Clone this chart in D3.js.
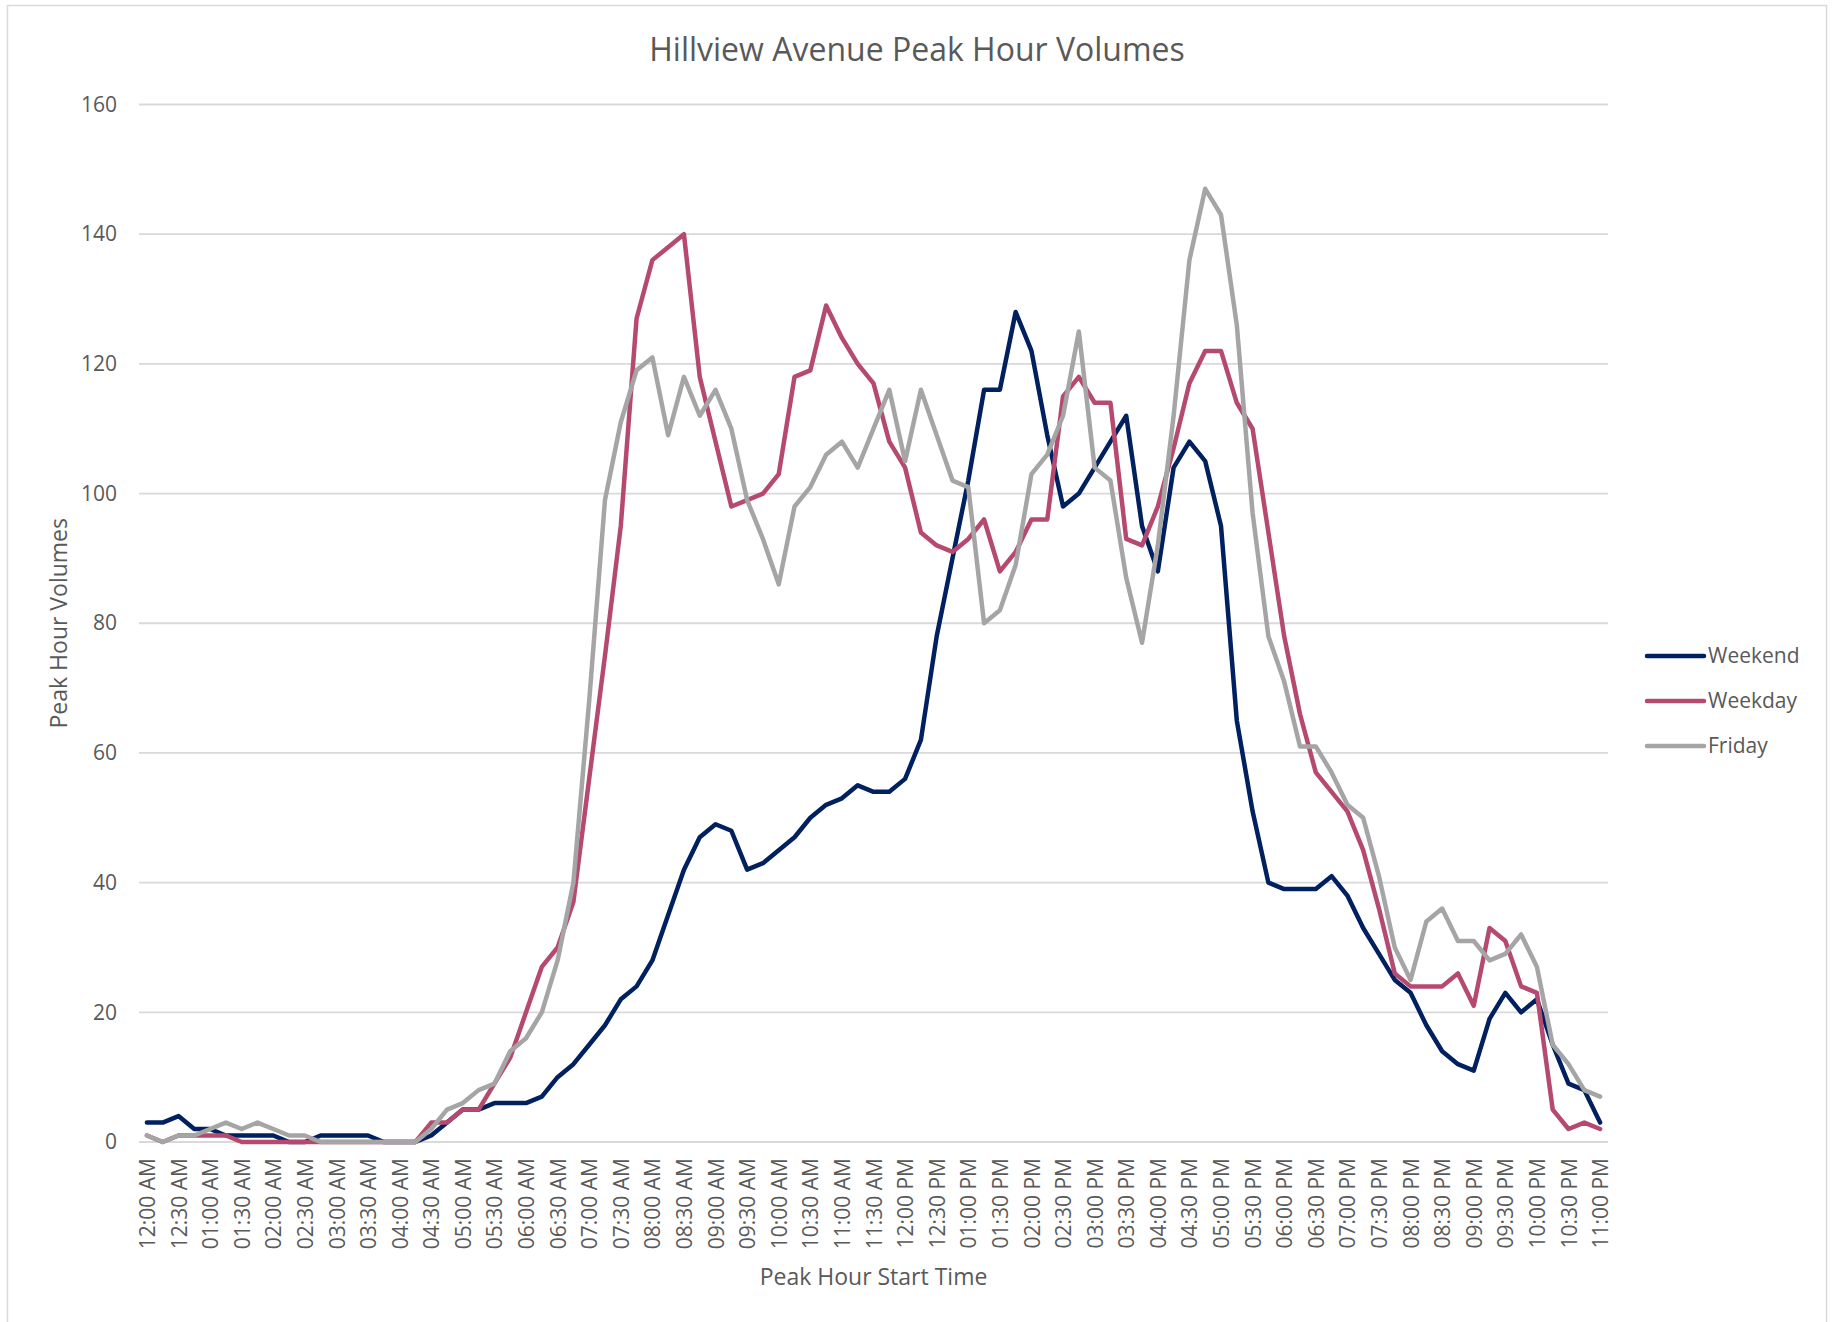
<!DOCTYPE html>
<html>
<head>
<meta charset="utf-8">
<script src="https://cdn.jsdelivr.net/npm/d3@7"></script>
<style>
    body { margin: 0; background: #fff; }
    text { font-family: "Open Sans", "Noto Sans", sans-serif; fill: #595959; }
</style>
</head>
<body>
<div id="chart"></div>
<script>
// 15-minute start times
const times = [
    "12:00 AM","12:15 AM","12:30 AM","12:45 AM","01:00 AM","01:15 AM","01:30 AM","01:45 AM",
    "02:00 AM","02:15 AM","02:30 AM","02:45 AM","03:00 AM","03:15 AM","03:30 AM","03:45 AM",
    "04:00 AM","04:15 AM","04:30 AM","04:45 AM","05:00 AM","05:15 AM","05:30 AM","05:45 AM",
    "06:00 AM","06:15 AM","06:30 AM","06:45 AM","07:00 AM","07:15 AM","07:30 AM","07:45 AM",
    "08:00 AM","08:15 AM","08:30 AM","08:45 AM","09:00 AM","09:15 AM","09:30 AM","09:45 AM",
    "10:00 AM","10:15 AM","10:30 AM","10:45 AM","11:00 AM","11:15 AM","11:30 AM","11:45 AM",
    "12:00 PM","12:15 PM","12:30 PM","12:45 PM","01:00 PM","01:15 PM","01:30 PM","01:45 PM",
    "02:00 PM","02:15 PM","02:30 PM","02:45 PM","03:00 PM","03:15 PM","03:30 PM","03:45 PM",
    "04:00 PM","04:15 PM","04:30 PM","04:45 PM","05:00 PM","05:15 PM","05:30 PM","05:45 PM",
    "06:00 PM","06:15 PM","06:30 PM","06:45 PM","07:00 PM","07:15 PM","07:30 PM","07:45 PM",
    "08:00 PM","08:15 PM","08:30 PM","08:45 PM","09:00 PM","09:15 PM","09:30 PM","09:45 PM",
    "10:00 PM","10:15 PM","10:30 PM","10:45 PM","11:00 PM"
];

// only every other time gets a label
const tickLabels = times.filter((t, i) => i % 2 === 0);

const weekend = [
    3, 3, 4, 2, 2, 1, 1, 1, 1, 0, 0, 1, 1, 1, 1, 0,
    0, 0, 1, 3, 5, 5, 6, 6, 6, 7, 10, 12, 15, 18, 22, 24,
    28, 35, 42, 47, 49, 48, 42, 43, 45, 47, 50, 52, 53, 55, 54, 54,
    56, 62, 78, 90, 102, 116, 116, 128, 122, 109, 98, 100, 104, 108, 112, 95,
    88, 104, 108, 105, 95, 65, 51, 40, 39, 39, 39, 41, 38, 33, 29, 25,
    23, 18, 14, 12, 11, 19, 23, 20, 22, 15, 9, 8, 3
];

const weekday = [
    1, 0, 1, 1, 1, 1, 0, 0, 0, 0, 0, 0, 0, 0, 0, 0,
    0, 0, 3, 3, 5, 5, 9, 13, 20, 27, 30, 37, 56, 75, 95, 127,
    136, 138, 140, 118, 108, 98, 99, 100, 103, 118, 119, 129, 124, 120, 117, 108,
    104, 94, 92, 91, 93, 96, 88, 91, 96, 96, 115, 118, 114, 114, 93, 92,
    98, 107, 117, 122, 122, 114, 110, 94, 78, 66, 57, 54, 51, 45, 36, 26,
    24, 24, 24, 26, 21, 33, 31, 24, 23, 5, 2, 3, 2
];

const friday = [
    1, 0, 1, 1, 2, 3, 2, 3, 2, 1, 1, 0, 0, 0, 0, 0,
    0, 0, 2, 5, 6, 8, 9, 14, 16, 20, 28, 40, 68, 99, 111, 119,
    121, 109, 118, 112, 116, 110, 99, 93, 86, 98, 101, 106, 108, 104, 110, 116,
    105, 116, 109, 102, 101, 80, 82, 89, 103, 106, 112, 125, 104, 102, 87, 77,
    92, 112, 136, 147, 143, 126, 97, 78, 71, 61, 61, 57, 52, 50, 41, 30,
    25, 34, 36, 31, 31, 28, 29, 32, 27, 15, 12, 8, 7
];

const seriesNames = ["Weekend", "Weekday", "Friday"];
const seriesColors = ["#002060", "#B6496F", "#A5A5A5"];
const yTicks = [0, 20, 40, 60, 80, 100, 120, 140, 160];

const series = [weekend, weekday, friday].map((vals, k) => ({
    name: seriesNames[k],
    color: seriesColors[k],
    values: vals.map((v, i) => ({time: times[i], value: v}))
}));

const W = 1841, H = 1322;
const plot = {left: 139, right: 1608, top: 104.5, bottom: 1142};

const svg = d3.select("#chart").append("svg")
    .attr("width", W)
    .attr("height", H);

// chart border
svg.append("rect")
    .attr("x", 7.5).attr("y", 5.5)
    .attr("width", 1819).attr("height", 1340)
    .attr("fill", "none")
    .attr("stroke", "#d9d9d9")
    .attr("stroke-width", 1.5);

// scales
const x = d3.scalePoint()
    .domain(times)
    .range([plot.left, plot.right])
    .padding(0.5);

const y = d3.scaleLinear()
    .domain([0, 160])
    .range([plot.bottom, plot.top]);

// gridlines
svg.append("g")
    .selectAll("line")
    .data(yTicks)
    .join("line")
    .attr("x1", plot.left)
    .attr("x2", plot.right)
    .attr("y1", d => y(d))
    .attr("y2", d => y(d))
    .attr("stroke", "#d9d9d9")
    .attr("stroke-width", 1.8);

// y axis
const yAxis = svg.append("g")
    .attr("transform", `translate(${plot.left},0)`)
    .call(d3.axisLeft(y).tickValues(yTicks).tickSize(0).tickPadding(22));
yAxis.select(".domain").remove();
yAxis.selectAll("text")
    .attr("fill", "#595959")
    .style("font-size", "21px")
    .style("font-family", "'Open Sans', sans-serif");

// x axis
const xAxis = svg.append("g")
    .attr("transform", `translate(0,${plot.bottom})`)
    .call(d3.axisBottom(x).tickValues(tickLabels).tickSize(0));
xAxis.select(".domain").remove();
xAxis.selectAll("text")
    .attr("transform", "rotate(-90)")
    .attr("text-anchor", "end")
    .attr("x", -16)
    .attr("y", 0)
    .attr("dy", "0.36em")
    .attr("fill", "#595959")
    .style("font-size", "21px")
    .style("font-family", "'Open Sans', sans-serif");

// lines
const line = d3.line()
    .x(d => x(d.time))
    .y(d => y(d.value));

svg.append("g")
    .selectAll("path")
    .data(series)
    .join("path")
    .attr("d", d => line(d.values))
    .attr("fill", "none")
    .attr("stroke", d => d.color)
    .attr("stroke-width", 4.5)
    .attr("stroke-linejoin", "round")
    .attr("stroke-linecap", "round");

// title
svg.append("text")
    .attr("x", 917)
    .attr("y", 61)
    .attr("text-anchor", "middle")
    .style("font-size", "32px")
    .text("Hillview Avenue Peak Hour Volumes");

// axis titles
svg.append("text")
    .attr("x", (plot.left + plot.right) / 2)
    .attr("y", 1285)
    .attr("text-anchor", "middle")
    .style("font-size", "23px")
    .text("Peak Hour Start Time");

svg.append("text")
    .attr("transform", `translate(67,${(plot.top + plot.bottom) / 2})rotate(-90)`)
    .attr("text-anchor", "middle")
    .style("font-size", "23px")
    .text("Peak Hour Volumes");

// legend
const legend = svg.append("g")
    .selectAll("g")
    .data(series)
    .join("g")
    .attr("transform", (d, i) => `translate(1647,${656 + i * 45})`);

legend.append("line")
    .attr("x1", 0).attr("x2", 57)
    .attr("stroke", d => d.color)
    .attr("stroke-width", 4.5)
    .attr("stroke-linecap", "round");

legend.append("text")
    .attr("x", 61)
    .attr("dy", "0.35em")
    .style("font-size", "21px")
    .text(d => d.name);
</script>
</body>
</html>
